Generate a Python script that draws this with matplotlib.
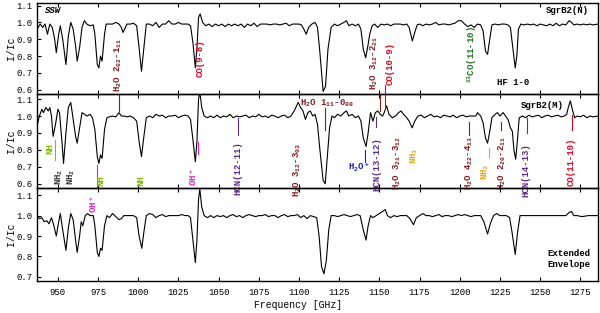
import matplotlib.pyplot as plt

plt.rcParams['font.family'] = ['Liberation Mono', 'DejaVu Sans Mono']
plt.rcParams['mathtext.default'] = 'regular'

# SSW (SgrB2(N)) spectrum
freq_ssw = [937, 939, 940.5, 942, 943.5, 945, 946.5, 948, 949, 950.5,
            951.5, 953, 955, 956.5, 958, 959.5, 961, 962, 963.5, 965,
            966.5, 968, 970, 972, 973, 974.5, 975.5, 976.5, 977.5, 979,
            980, 982, 984, 986, 988, 989.5, 990.5, 991.5, 993, 995,
            997, 999, 1000.5, 1002, 1003.5, 1005, 1007, 1009, 1011, 1013,
            1015, 1017, 1019, 1021, 1023, 1025, 1027, 1029, 1031, 1032.5,
            1034, 1035.5, 1036.5, 1037.5, 1038.5, 1040, 1042, 1044, 1046, 1048,
            1050, 1052, 1054, 1056, 1058, 1060, 1062, 1064, 1066, 1068,
            1070, 1072, 1074, 1076, 1078, 1080, 1082, 1084, 1086, 1088,
            1090, 1092, 1094, 1096, 1098, 1100, 1101.5, 1103, 1104.5, 1106,
            1108, 1110, 1111.5, 1113, 1115, 1116.5, 1118, 1120, 1122, 1124,
            1126, 1128, 1129.5, 1131, 1133, 1135, 1137, 1138.5, 1140, 1141.5,
            1143, 1144, 1145.5, 1147, 1149, 1151, 1153, 1155, 1157, 1159,
            1161, 1163, 1165, 1167, 1168.5, 1170.5, 1172, 1173.5, 1175, 1177,
            1179, 1181, 1183, 1185, 1187, 1189, 1191, 1193, 1195, 1197,
            1199, 1201, 1203, 1205, 1207, 1209, 1211, 1213, 1214.5, 1216,
            1217.3, 1218.5, 1220, 1222, 1224, 1226, 1228, 1230, 1231.5, 1233,
            1234.5, 1235.5, 1236.5, 1238, 1240, 1242, 1244, 1246, 1248, 1250,
            1252, 1254, 1256, 1258, 1260, 1262, 1264, 1266, 1268, 1269.5,
            1271, 1273, 1275, 1277, 1279, 1281, 1283, 1286]
flux_ssw = [0.96, 0.99, 0.97, 0.99, 0.93, 0.99, 0.97, 0.90, 0.82, 0.93,
            0.98, 0.90, 0.75, 0.92, 1.00, 0.96, 0.86, 0.77, 0.85, 0.97,
            1.01, 0.99, 0.98, 0.985, 0.93, 0.75, 0.73, 0.80, 0.77, 0.93,
            0.99, 0.99, 0.99, 1.00, 0.99, 0.97, 0.94, 0.96, 0.99, 0.99,
            0.995, 0.98, 0.85, 0.71, 0.85, 0.99, 0.99, 0.98, 1.00, 0.97,
            0.99, 0.99, 1.01, 0.99, 0.99, 1.00, 0.99, 0.99, 0.99, 0.98,
            0.88, 0.73, 0.85, 1.03, 1.05, 1.00, 0.98, 0.99, 0.975, 0.99,
            0.98, 0.99, 0.975, 0.99, 0.98, 0.99, 0.98, 0.99, 0.97, 0.99,
            0.98, 0.995, 0.975, 0.99, 0.99, 0.99, 0.985, 0.99, 0.99, 0.985,
            0.99, 0.995, 0.98, 0.99, 0.99, 0.99, 0.985, 0.96, 0.93, 0.97,
            0.99, 1.00, 0.97, 0.82, 0.59, 0.62, 0.84, 0.97, 0.99, 0.98,
            0.99, 1.00, 1.01, 0.98, 0.99, 0.98, 0.99, 0.96, 0.84, 0.79,
            0.87, 0.93, 0.98, 0.99, 0.97, 0.99, 0.985, 0.99, 0.98, 0.99,
            0.99, 0.99, 0.985, 0.99, 0.97, 0.89, 0.94, 0.985, 0.99, 0.98,
            0.99, 0.985, 0.99, 1.00, 0.985, 0.99, 0.99, 0.985, 0.99, 0.995,
            1.01, 1.01, 0.99, 0.975, 0.985, 0.97, 0.99, 0.985, 0.95, 0.83,
            0.81, 0.89, 0.985, 0.99, 0.985, 0.99, 0.99, 0.985, 0.97, 0.85,
            0.73, 0.80, 0.96, 0.99, 0.985, 0.99, 0.985, 0.99, 0.98, 0.99,
            0.985, 0.98, 0.99, 0.98, 0.995, 0.98, 0.99, 0.985, 1.01, 1.00,
            0.985, 0.99, 0.985, 0.99, 0.985, 0.99, 0.985, 0.99]

# SgrB2(M) spectrum
freq_m = [937, 938.5, 940, 941, 942.5, 944, 945, 946, 947, 948.5,
          950, 951, 952.5, 953.5, 955, 956.5, 958, 959.5, 961, 962,
          963.5, 965, 966.5, 968, 970, 971.5, 973, 974.5, 975.5, 976.5,
          977.5, 979, 980.5, 982, 984, 986, 988, 989.5, 991, 993,
          995, 997, 999, 1000.5, 1002, 1003.5, 1005, 1007, 1009, 1011,
          1013, 1015, 1017, 1019, 1021, 1023, 1025, 1027, 1029, 1031,
          1032.5, 1034, 1035.5, 1036.5, 1037.5, 1038.3, 1039.5, 1041, 1043, 1045,
          1047, 1049, 1051, 1053, 1055, 1057, 1059, 1061, 1063, 1065,
          1067, 1069, 1071, 1073, 1075, 1077, 1079, 1081, 1083, 1085,
          1087, 1089, 1091, 1093, 1095, 1097, 1099.5, 1101, 1102.5, 1104,
          1105.5, 1107, 1108.5, 1110, 1111.5, 1113, 1115, 1116.3, 1117.5, 1119,
          1120.5, 1122, 1124, 1126, 1128, 1129.5, 1131, 1133, 1135, 1137,
          1138.5, 1140, 1141.7, 1143, 1144.5, 1146, 1147.5, 1149, 1150.5, 1152,
          1153, 1154.5, 1156, 1158, 1160, 1162, 1163.5, 1165, 1167, 1168.5,
          1170.4, 1172, 1174, 1176, 1178, 1180, 1182, 1184, 1186, 1188,
          1190, 1192, 1194, 1196, 1198, 1200, 1202, 1204, 1206, 1208,
          1210, 1211, 1213, 1214.5, 1216, 1217.3, 1218.5, 1220, 1222, 1223.5,
          1225, 1227, 1228.5, 1230, 1231.5, 1232.7, 1233.7, 1234.8, 1235.8, 1237,
          1239, 1241, 1243, 1245, 1247, 1249, 1251, 1253, 1255, 1257,
          1259, 1261, 1263, 1265, 1266.5, 1267.5, 1268.8, 1270, 1271.5, 1273,
          1275, 1277, 1279, 1281, 1283, 1286]
flux_m = [0.94, 1.00, 1.04, 1.02, 1.05, 1.03, 1.05, 1.00, 0.88, 0.95,
          1.04, 1.02, 0.85, 0.72, 0.90, 1.05, 1.08, 0.98, 0.88, 0.84,
          0.93, 1.02, 1.01, 1.00, 1.01, 0.99, 0.92, 0.76, 0.72, 0.77,
          0.75, 0.92, 0.99, 0.995, 1.00, 0.995, 1.02, 1.00, 1.00, 0.995,
          1.00, 0.99, 0.97, 0.85, 0.76, 0.88, 0.99, 1.00, 0.99, 1.01,
          1.00, 1.005, 0.99, 1.00, 1.00, 1.005, 0.99, 1.00, 1.005, 1.00,
          0.98, 0.86, 0.73, 0.85, 1.10, 1.14, 1.05, 1.00, 0.99, 1.00,
          0.99, 1.005, 0.99, 1.00, 0.995, 1.01, 0.99, 1.00, 0.995, 1.00,
          1.005, 0.99, 1.00, 0.995, 1.01, 0.995, 1.00, 0.99, 1.005, 1.00,
          0.99, 1.00, 1.005, 0.99, 1.00, 1.03, 1.08, 1.05, 1.03, 0.98,
          1.02, 1.03, 1.00, 1.01, 0.95, 0.80, 0.62, 0.60, 0.75, 0.93,
          1.00, 0.99, 1.01, 1.00, 1.02, 1.03, 1.00, 1.01, 0.99, 1.00,
          0.97, 0.87, 0.82, 0.90, 1.02, 0.97, 1.02, 1.03, 1.01, 1.00,
          1.02, 1.06, 1.01, 0.99, 1.00, 1.02, 1.03, 1.01, 0.99, 0.97,
          0.93, 0.97, 1.00, 1.005, 0.99, 1.00, 1.01, 0.995, 1.00, 0.99,
          1.005, 1.00, 0.995, 1.005, 0.99, 1.00, 1.005, 0.995, 1.00, 1.00,
          1.00, 1.02, 1.00, 0.96, 0.87, 0.84, 0.90, 0.99, 1.01, 1.02,
          1.00, 1.02, 1.00, 0.98, 0.93, 0.91, 0.80, 0.745, 0.85, 0.99,
          1.00, 0.99, 1.005, 0.995, 1.00, 1.005, 0.99, 1.00, 1.005, 0.995,
          1.00, 1.005, 0.995, 1.00, 1.01, 1.05, 1.09, 1.04, 0.99, 1.00,
          0.995, 1.005, 0.99, 1.00, 0.995, 1.00]

# extended envelope spectrum
freq_env = [937, 938.5, 940, 941.5, 943, 944.5, 946, 947.5, 949, 950.5,
            951.5, 953, 955, 956.5, 958, 959.5, 961, 962, 963.5, 964.5,
            965.5, 967, 968.5, 970, 972, 973, 974.5, 975.5, 976.5, 977.5,
            979, 980.5, 982, 984, 986, 988, 989.5, 991, 993, 995,
            997, 999, 1000.5, 1002.2, 1003.5, 1005, 1007, 1009, 1011, 1013,
            1015, 1017, 1019, 1021, 1023, 1025, 1027, 1029, 1031, 1032.5,
            1034, 1035.5, 1036.5, 1037.5, 1038.3, 1039.5, 1041, 1043, 1045, 1047,
            1049, 1051, 1053, 1055, 1057, 1059, 1061, 1063, 1065, 1067,
            1069, 1071, 1073, 1075, 1077, 1079, 1081, 1083, 1085, 1087,
            1089, 1091, 1093, 1095, 1097, 1099, 1101, 1103, 1105, 1107,
            1109, 1111, 1112.5, 1114, 1115.5, 1117, 1118.5, 1120, 1122, 1124,
            1126, 1128, 1130, 1132, 1134, 1136, 1138, 1140, 1141.7, 1143,
            1144.5, 1146, 1148, 1150, 1152, 1153.6, 1155, 1157, 1159, 1161,
            1163, 1165, 1167, 1169, 1171.2, 1173, 1175, 1177, 1179, 1181,
            1183, 1185, 1187, 1189, 1191, 1193, 1195, 1197, 1199, 1201,
            1203, 1205, 1207, 1209, 1211, 1213, 1215, 1217.3, 1219, 1221,
            1223, 1225, 1227, 1229, 1231, 1232.5, 1234.5, 1236, 1237.5, 1240,
            1242, 1244, 1246, 1248, 1250, 1252, 1254, 1256, 1258, 1260,
            1262, 1264, 1266, 1268, 1269.5, 1271, 1273, 1276, 1280, 1286]
flux_env = [1.00, 0.985, 0.99, 0.97, 0.975, 0.96, 0.99, 0.95, 0.90, 0.97,
            1.01, 0.93, 0.83, 0.94, 1.01, 0.98, 0.88, 0.82, 0.90, 0.97,
            0.95, 1.00, 1.01, 1.00, 1.00, 0.95, 0.82, 0.80, 0.84, 0.83,
            0.95, 1.00, 0.99, 1.01, 0.995, 0.98, 0.985, 1.00, 1.00, 1.00,
            1.00, 0.99, 0.90, 0.84, 0.92, 1.00, 1.01, 1.005, 0.99, 1.00,
            1.005, 0.995, 1.00, 1.00, 1.00, 1.00, 1.005, 1.00, 1.00, 0.99,
            0.88, 0.77, 0.88, 1.08, 1.13, 1.04, 1.00, 0.99, 1.00, 0.99,
            1.00, 0.995, 1.00, 0.99, 1.00, 1.005, 0.995, 1.00, 0.99, 1.00,
            1.005, 1.00, 0.995, 1.00, 1.00, 1.005, 0.995, 1.00, 1.00, 0.99,
            1.00, 1.005, 0.995, 1.00, 1.00, 1.005, 0.99, 1.00, 0.985, 1.00,
            0.995, 0.99, 0.90, 0.75, 0.715, 0.78, 0.93, 1.00, 1.00, 0.995,
            1.00, 1.005, 1.00, 0.995, 1.00, 1.005, 1.00, 0.93, 0.88, 0.95,
            1.00, 0.99, 1.00, 1.01, 1.02, 1.03, 1.00, 0.99, 1.00, 0.995,
            1.00, 1.00, 1.00, 0.985, 0.955, 0.99, 1.00, 1.01, 1.00, 1.00,
            0.995, 1.00, 1.005, 0.995, 1.00, 1.00, 0.995, 1.00, 1.005, 1.00,
            1.005, 1.00, 0.995, 1.00, 1.00, 1.00, 0.97, 0.91, 0.96, 1.00,
            1.01, 1.00, 1.00, 1.00, 0.99, 0.92, 0.81, 0.92, 1.00, 1.00,
            1.00, 1.00, 1.00, 1.00, 1.00, 1.00, 1.00, 1.00, 1.00, 1.00,
            1.00, 1.00, 1.00, 1.015, 1.02, 1.00, 1.00, 0.995, 1.00, 1.00]

xticks = [950, 975, 1000, 1025, 1050, 1075, 1100, 1125, 1150, 1175, 1200, 1225, 1250, 1275]

# colours for the species
c_h2o = '#8b1a1a'
c_co = '#e8001c'
c_13co = '#1f7a1f'
c_nh = '#80c000'
c_nh2 = '#333333'
c_ohp = '#e020c0'
c_hcn = '#5b2c8f'
c_h2op = '#1a1acc'
c_nh3 = '#e8a800'

fig = plt.figure(figsize=(6, 3.13), dpi=100)
L, R = 37 / 600, 598 / 600
ax1 = fig.add_axes([L, 1 - 94 / 313, R - L, 91 / 313])
ax2 = fig.add_axes([L, 1 - 188 / 313, R - L, 94 / 313])
ax3 = fig.add_axes([L, 1 - 281 / 313, R - L, 93 / 313])

ax1.plot(freq_ssw, flux_ssw, color='black', lw=0.8)
ax2.plot(freq_m, flux_m, color='black', lw=0.8)
ax3.plot(freq_env, flux_env, color='black', lw=0.8)

ax1.set_ylim(0.575, 1.115)
ax2.set_ylim(0.575, 1.13)
ax3.set_ylim(0.68, 1.135)
for ax in (ax1, ax2, ax3):
    ax.patch.set_visible(False)
    ax.set_xlim(937, 1286)
    ax.set_xticks(xticks)
    ax.tick_params(direction='in', length=3, width=0.8, labelsize=6.5, top=True, pad=3)
    ax.set_ylabel('I/Ic', fontsize=7)
    for s in ax.spines.values():
        s.set_linewidth(1.0)
ax1.set_yticks([0.6, 0.7, 0.8, 0.9, 1.0, 1.1])
ax2.set_yticks([0.6, 0.7, 0.8, 0.9, 1.0, 1.1])
ax3.set_yticks([0.7, 0.8, 0.9, 1.0, 1.1])
for ax in (ax1, ax2, ax3):
    ax.set_yticklabels(['%.1f' % t for t in ax.get_yticks()])
    ax.yaxis.set_label_coords(-0.038, 0.5)
ax1.tick_params(labelbottom=False)
ax2.tick_params(labelbottom=False)
ax3.tick_params(axis='x', pad=5)
ax3.set_xticklabels([str(t) for t in xticks])
ax3.set_xlabel('Frequency [GHz]', fontsize=7, labelpad=4)
ax3.xaxis.set_label_coords(0.466, -0.2)

fs = 6.5
kw = dict(rotation=90, ha='center', fontsize=fs, fontweight='bold')

# panel 1
ax1.text(942, 1.07, 'SSW', fontsize=6.5, style='italic', fontweight='bold', va='center')
ax1.text(1280, 1.07, 'SgrB2(N)', fontsize=6.5, fontweight='bold', ha='right', va='center')
ax1.text(987.4, 0.585, r'H$_2$O 2$_{02}$-1$_{11}$', color=c_h2o, va='bottom', **kw)
ax1.text(1038.5, 0.786, 'CO(9-8)', color=c_co, va='center', **kw)
ax1.text(1146.8, 0.598, r'H$_2$O 3$_{12}$-2$_{21}$', color=c_h2o, va='bottom', **kw)
ax1.text(1156.9, 0.63, 'CO(10-9)', color=c_co, va='bottom', **kw)
ax1.plot([1153.5, 1153.5], [0.63, 0.575], color=c_co, lw=0.8)
ax1.text(1207.4, 0.64, r'$^{13}$CO(11-10)', color=c_13co, va='bottom', **kw)
ax1.text(1232.9, 0.646, 'HF 1-0', fontsize=fs, fontweight='bold', ha='center', va='center')

# panel 2
ax2.text(1264.7, 1.065, 'SgrB2(M)', fontsize=6.5, fontweight='bold', ha='right', va='center')
ax2.plot([988.1, 988.1], [1.13, 1.03], color=c_h2o, lw=0.8)
ax2.plot([1150.5, 1150.5], [1.13, 1.03], color=c_h2o, lw=0.8)
ax2.plot([1153.5, 1153.5], [1.13, 1.04], color=c_co, lw=0.8)
ax2.text(944.7, 0.808, 'NH', color=c_nh, va='center', **kw)
ax2.plot([948.1, 948.1], [0.86, 0.74], color=c_nh, lw=0.8)
ax2.text(951, 0.593, r'NH$_2$', color=c_nh2, va='bottom', **kw)
ax2.text(958.1, 0.593, r'NH$_2$', color=c_nh2, va='bottom', **kw)
ax2.plot([974.3, 974.3], [0.71, 0.575], color=c_ohp, lw=0.8)
ax2.text(976.5, 0.587, 'NH', color=c_nh, va='bottom', **kw)
ax2.text(1001.4, 0.587, 'NH', color=c_nh, va='bottom', **kw)
ax2.text(1034.4, 0.585, r'OH$^+$', color=c_ohp, va='bottom', **kw)
ax2.plot([1037.2, 1037.2], [0.846, 0.774], color=c_ohp, lw=0.8)
ax2.text(1061.8, 0.853, 'HCN(12-11)', color=c_hcn, va='top', **kw)
ax2.plot([1062.2, 1062.2], [0.988, 0.888], color=c_hcn, lw=0.8)
ax2.text(1098.6, 0.841, r'H$_2$O 3$_{12}$-3$_{03}$', color=c_h2o, va='top', **kw)
ax2.text(1117.3, 1.077, r'H$_2$O 1$_{11}$-0$_{00}$', color=c_h2o, fontsize=fs,
         fontweight='bold', ha='center', va='center')
ax2.plot([1116.4, 1116.4], [1.047, 0.917], color=c_h2o, lw=0.8)
ax2.text(1137.5, 0.699, r'H$_2$O$^+$', color=c_h2op, fontsize=fs, fontweight='bold',
         ha='center', va='center')
ax2.plot([1141.3, 1141.3], [0.799, 0.728], color=c_h2op, lw=0.8)
ax2.text(1148.4, 0.876, 'HCN(13-12)', color=c_hcn, va='top', **kw)
ax2.plot([1148.1, 1148.1], [0.994, 0.935], color=c_hcn, lw=0.8)
ax2.text(1161.2, 0.563, r'H$_2$O 3$_{21}$-3$_{12}$', color=c_h2o, va='bottom', **kw)
ax2.text(1171.5, 0.767, r'NH$_3$', color=c_nh3, va='center', **kw)
ax2.text(1205.8, 0.563, r'H$_2$O 4$_{22}$-4$_{13}$', color=c_h2o, va='bottom', **kw)
ax2.plot([1205.5, 1205.5], [0.965, 0.888], color=c_h2o, lw=0.8)
ax2.text(1215.7, 0.672, r'NH$_3$', color=c_nh3, va='center', **kw)
ax2.plot([1217.9, 1217.9], [0.811, 0.758], color=c_nh3, lw=0.8)
ax2.text(1226.3, 0.563, r'H$_2$O 2$_{20}$-2$_{11}$', color=c_h2o, va='bottom', **kw)
ax2.plot([1225.4, 1225.4], [0.965, 0.917], color=c_h2o, lw=0.8)
ax2.text(1241.0, 0.841, 'HCN(14-13)', color=c_hcn, va='top', **kw)
ax2.plot([1241.6, 1241.6], [0.988, 0.900], color=c_hcn, lw=0.8)
ax2.text(1269.0, 0.870, 'CO(11-10)', color=c_co, va='top', **kw)
ax2.plot([1269.6, 1269.6], [1.006, 0.917], color=c_co, lw=0.8)

# panel 3
ax3.text(971.8, 1.101, r'OH$^+$', color=c_ohp, va='top', **kw)
ax3.text(1281.5, 0.788, 'Extended\nEnvelope', fontsize=fs, fontweight='bold',
         ha='right', va='center', linespacing=1.3)

fig.savefig('out.png', dpi=100)
